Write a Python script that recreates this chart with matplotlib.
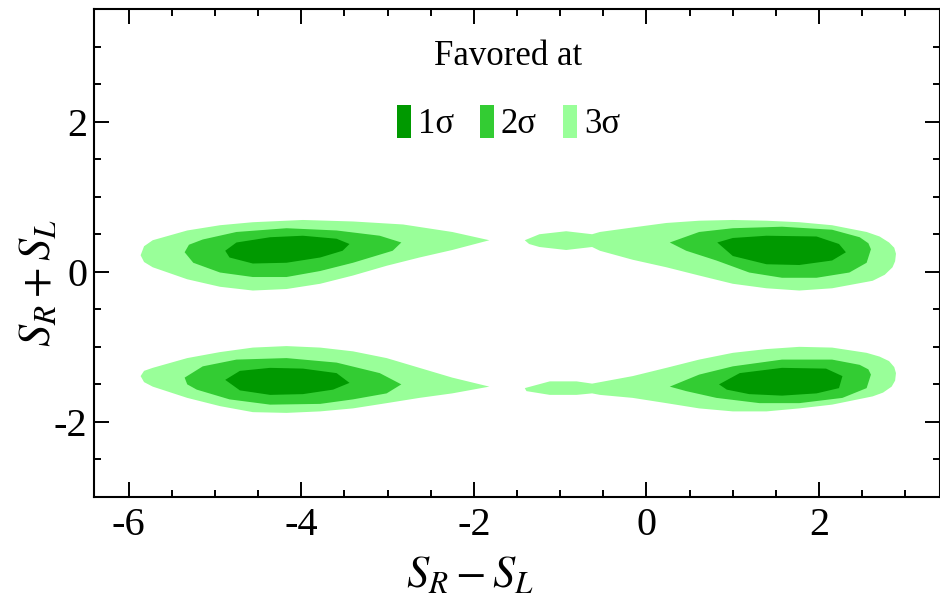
import matplotlib
matplotlib.use("Agg")
import matplotlib.pyplot as plt
from matplotlib.patches import Patch
from matplotlib.ticker import MultipleLocator

# allowed regions in the (S_R - S_L, S_R + S_L) plane, outlined per confidence level
LEVELS = ["1σ", "2σ", "3σ"]
COLORS = {"1σ": "#009900", "2σ": "#33cc33", "3σ": "#99ff99"}
XTICKS = [-6, -4, -2, 0, 2]
YTICKS = [-2, 0, 2]

# upper-left island
TL3_X = [-5.86, -5.82, -5.72, -5.32, -4.94, -4.56, -3.98, -3.40, -2.82, -2.25, -1.82,
         -2.25, -2.63, -3.01, -3.40, -3.78, -4.17, -4.56, -4.94, -5.32, -5.72, -5.82]
TL3_Y = [0.22, 0.34, 0.42, 0.55, 0.62, 0.66, 0.69, 0.67, 0.63, 0.53, 0.42,
         0.29, 0.19, 0.08, -0.05, -0.16, -0.23, -0.25, -0.20, -0.10, 0.06, 0.13]
TL2_X = [-5.35, -5.30, -5.14, -4.75, -4.17, -3.59, -3.09, -2.84, -2.94, -3.40, -3.78,
         -4.17, -4.56, -4.94, -5.25]
TL2_Y = [0.26, 0.36, 0.43, 0.53, 0.58, 0.55, 0.48, 0.39, 0.28, 0.12, 0.01,
         -0.07, -0.07, -0.01, 0.12]
TL1_X = [-4.88, -4.75, -4.36, -3.98, -3.59, -3.44, -3.52, -3.78, -4.17, -4.56, -4.83]
TL1_Y = [0.28, 0.39, 0.46, 0.48, 0.44, 0.37, 0.28, 0.19, 0.12, 0.11, 0.19]

# lower-left island
BL3_X = [-5.86, -5.82, -5.72, -5.32, -4.94, -4.56, -4.17, -3.78, -3.40, -3.01, -2.63, -2.25,
         -1.82, -2.25, -2.63, -3.01, -3.40, -3.78, -4.17, -4.56, -4.94, -5.32, -5.72, -5.82]
BL3_Y = [-1.39, -1.32, -1.28, -1.15, -1.07, -1.01, -0.99, -1.01, -1.06, -1.15, -1.28, -1.41,
         -1.53, -1.62, -1.68, -1.75, -1.82, -1.86, -1.88, -1.87, -1.79, -1.68, -1.53, -1.47]
BL2_X = [-5.35, -5.14, -4.75, -4.17, -3.59, -3.09, -2.84, -3.01, -3.40, -3.78, -4.36,
         -4.83, -5.21, -5.32]
BL2_Y = [-1.41, -1.26, -1.17, -1.15, -1.21, -1.35, -1.50, -1.62, -1.70, -1.76, -1.77,
         -1.70, -1.57, -1.50]
BL1_X = [-4.88, -4.71, -4.36, -3.98, -3.59, -3.44, -3.63, -3.98, -4.36, -4.71]
BL1_Y = [-1.44, -1.32, -1.28, -1.29, -1.35, -1.48, -1.57, -1.63, -1.64, -1.58]

# upper-right island (with thin tail towards negative x)
TR3_X = [-1.41, -1.24, -0.93, -0.63, -0.54, -0.16, 0.23, 0.61, 1.00, 1.39, 1.77, 2.15, 2.55,
         2.70, 2.81, 2.87, 2.89, 2.88, 2.85, 2.76, 2.62, 2.15, 1.77, 1.39, 1.00, 0.61, 0.23,
         -0.16, -0.54, -0.63, -0.93, -1.24, -1.36]
TR3_Y = [0.42, 0.50, 0.54, 0.50, 0.53, 0.59, 0.65, 0.68, 0.69, 0.68, 0.66, 0.62, 0.53,
         0.47, 0.39, 0.32, 0.24, 0.14, 0.06, -0.04, -0.12, -0.22, -0.25, -0.22, -0.16, -0.05, 0.06,
         0.16, 0.28, 0.33, 0.29, 0.33, 0.37]
TR2_X = [0.27, 0.61, 1.00, 1.57, 2.15, 2.47, 2.57, 2.60, 2.55, 2.35, 1.97, 1.57, 1.19, 0.81, 0.46]
TR2_Y = [0.39, 0.53, 0.58, 0.60, 0.56, 0.46, 0.38, 0.30, 0.12, -0.01, -0.08, -0.08, -0.01, 0.15, 0.28]
TR1_X = [0.82, 1.00, 1.39, 1.97, 2.23, 2.31, 2.15, 1.77, 1.39, 1.00]
TR1_Y = [0.39, 0.45, 0.48, 0.47, 0.37, 0.26, 0.15, 0.09, 0.10, 0.21]

# lower-right island
BR3_X = [-1.41, -1.12, -0.81, -0.63, -0.16, 0.23, 0.61, 1.00, 1.39, 1.77, 2.15, 2.55, 2.70,
         2.81, 2.87, 2.89, 2.88, 2.84, 2.74, 2.62, 2.15, 1.77, 1.39, 1.00, 0.61, 0.23, -0.16,
         -0.54, -0.63, -0.81, -1.12, -1.39]
BR3_Y = [-1.55, -1.46, -1.46, -1.49, -1.39, -1.28, -1.17, -1.08, -1.03, -1.00, -1.01, -1.08, -1.13,
         -1.19, -1.27, -1.35, -1.45, -1.53, -1.61, -1.66, -1.77, -1.82, -1.86, -1.86, -1.82, -1.75, -1.68,
         -1.64, -1.62, -1.64, -1.64, -1.59]
BR2_X = [0.27, 0.61, 1.00, 1.57, 2.15, 2.47, 2.57, 2.60, 2.55, 2.27, 1.77, 1.31, 0.81, 0.46]
BR2_Y = [-1.53, -1.37, -1.26, -1.17, -1.17, -1.24, -1.30, -1.37, -1.55, -1.68, -1.75, -1.75, -1.68, -1.59]
BR1_X = [0.84, 1.08, 1.57, 2.08, 2.27, 2.23, 1.97, 1.57, 1.19, 0.93]
BR1_Y = [-1.50, -1.35, -1.28, -1.29, -1.39, -1.55, -1.62, -1.65, -1.63, -1.57]

REGIONS = {
    "3σ": [(TL3_X, TL3_Y), (BL3_X, BL3_Y), (TR3_X, TR3_Y), (BR3_X, BR3_Y)],
    "2σ": [(TL2_X, TL2_Y), (BL2_X, BL2_Y), (TR2_X, TR2_Y), (BR2_X, BR2_Y)],
    "1σ": [(TL1_X, TL1_Y), (BL1_X, BL1_Y), (TR1_X, TR1_Y), (BR1_X, BR1_Y)],
}

SERIF = "Liberation Serif"
plt.rcParams.update({"font.family": SERIF, "mathtext.fontset": "stix",
                     "axes.unicode_minus": False, "axes.linewidth": 1.5})

fig = plt.figure(figsize=(9.4, 6.14), dpi=100)
ax = fig.add_axes([0.1, 0.1906, 0.9, 0.7947])

for lev in ["3σ", "2σ", "1σ"]:
    for xs, ys in REGIONS[lev]:
        ax.fill(xs, ys, color=COLORS[lev], lw=0)

ax.set_xlim(-6.4, 3.4)
ax.set_ylim(-3.0, 3.5)
ax.set_xticks(XTICKS, [str(v) for v in XTICKS], fontfamily=SERIF, fontsize=29)
ax.set_yticks(YTICKS, [str(v) for v in YTICKS], fontfamily=SERIF, fontsize=29)
ax.xaxis.set_minor_locator(MultipleLocator(0.5))
ax.yaxis.set_minor_locator(MultipleLocator(0.5))
ax.tick_params(which="both", direction="in", top=True, right=True, width=1.4)
ax.tick_params(which="major", length=11)
ax.tick_params(which="minor", length=5)
ax.tick_params(axis="x", pad=7)
ax.tick_params(axis="y", pad=5)

fig.text(0.5, 0.062, r"$S_R - S_L$", fontsize=32, ha="center", va="center")
fig.text(0.041, 0.54, r"$S_R + S_L$", fontsize=32, ha="center", va="center", rotation=90)

handles = [Patch(facecolor=COLORS[l], edgecolor="none") for l in LEVELS]
leg = ax.legend(handles, LEVELS, title="Favored at", ncol=3, loc="upper center",
                bbox_to_anchor=(0.49, 1.0), frameon=False, title_fontsize=25,
                handlelength=0.4, handleheight=1.1, handletextpad=0.2, columnspacing=0.75,
                labelspacing=0.9, prop={"family": SERIF, "size": 25})
leg.get_title().set_fontfamily(SERIF)

fig.savefig("out.png", dpi=100)
